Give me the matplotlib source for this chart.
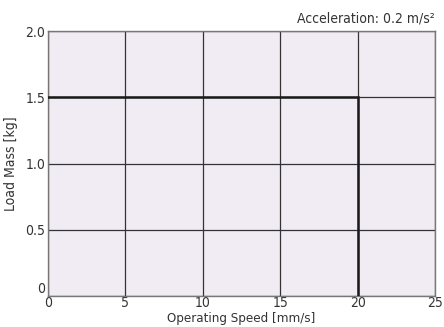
import matplotlib.pyplot as plt

# data
speed = [0, 20, 20]
mass = [1.5, 1.5, 0]
x_ticks = [0, 5, 10, 15, 20, 25]
y_ticks = [0, 0.5, 1.0, 1.5, 2.0]
y_labels = ['0', '0.5', '1.0', '1.5', '2.0']

plt.rcParams['font.family'] = ['DejaVu Sans']
plt.rcParams['font.stretch'] = 'condensed'
plt.rcParams['font.size'] = 10

fig = plt.figure(figsize=(4.44, 3.27), dpi=100)
ax = fig.add_axes([0.108, 0.094, 0.872, 0.811])
ax.set_facecolor('#f1ecf3')

ax.set_xlim(0, 25)
ax.set_ylim(0, 2.0)
ax.set_xticks(x_ticks)
ax.set_yticks(y_ticks)
ax.set_yticklabels(y_labels)
ax.grid(True, color='#333333', linewidth=0.9)
ax.set_axisbelow(True)
ax.tick_params(length=0, colors='#333333')
ax.tick_params(axis='x', pad=0)
ax.tick_params(axis='y', pad=2)
for s in ax.spines.values():
    s.set_color('#777777')
    s.set_linewidth(1.0)

ax.plot(speed, mass, color='#1a1a1a', linewidth=1.8, solid_joinstyle='miter', zorder=3)

for lab in ax.get_yticklabels():
    if lab.get_text() == '0':
        lab.set_verticalalignment('bottom')

ax.set_xlabel('Operating Speed [mm/s]', color='#333333', fontsize=9.5)
ax.xaxis.set_label_coords(0.5, -0.058)
ax.set_ylabel('Load Mass [kg]', color='#333333', labelpad=5, fontsize=10)
ax.text(1.0, 1.02, 'Acceleration: 0.2 m/s²', transform=ax.transAxes,
        ha='right', va='bottom', color='#333333', fontsize=10)

fig.savefig('out.png', dpi=100)
